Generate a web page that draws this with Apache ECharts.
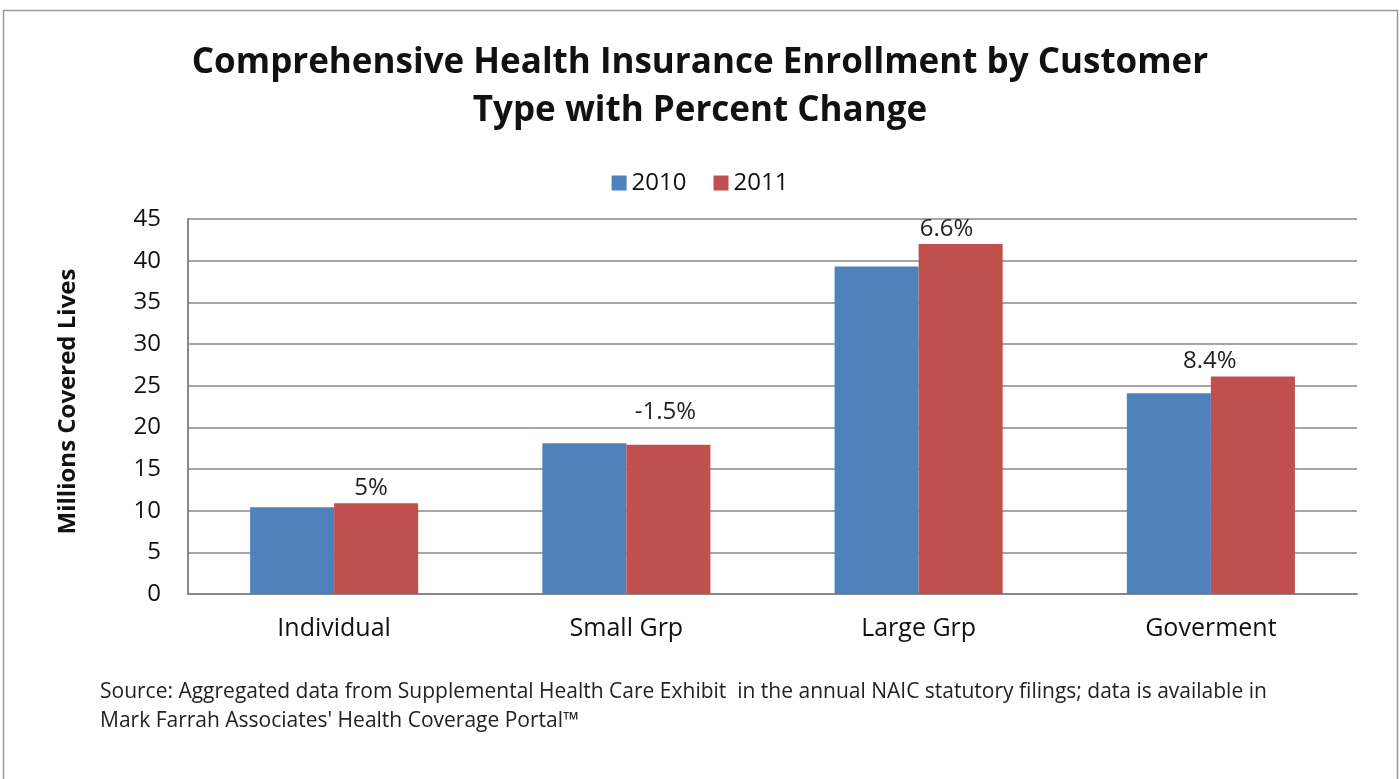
<!DOCTYPE html>
<html>
<head>
<meta charset="utf-8">
<script src="https://cdn.jsdelivr.net/npm/echarts@6/dist/echarts.min.js"></script>
<style>
html,body{margin:0;padding:0;background:#fff;}
#main{width:1400px;height:779px;}
</style>
</head>
<body>
<div id="main"></div>
<script>
const categories = ['Individual', 'Small Grp', 'Large Grp', 'Goverment'];
const values2010 = [10.4, 18.1, 39.3, 24.1];
const values2011 = [10.9, 17.9, 42.0, 26.1];
const pctChange = ['5%', '-1.5%', '6.6%', '8.4%'];
const yTicks = [0, 5, 10, 15, 20, 25, 30, 35, 40, 45];
const seriesNames = ['2010', '2011'];
const titleLines = ['Comprehensive Health Insurance Enrollment by Customer', 'Type with Percent Change'];
const sourceLines = ["Source: Aggregated data from Supplemental Health Care Exhibit  in the annual NAIC statutory filings; data is available in",
                     "Mark Farrah Associates' Health Coverage Portal\u2122"];
// label placement nudges (pixels), as positioned in the original
const labelOffsets = [[-5, 0], [-3, -18], [-14, 0], [-43, 0]];

const chart = echarts.init(document.getElementById('main'));
const font = '"Open Sans", "Liberation Sans", sans-serif';
chart.setOption({
  backgroundColor: '#fff',
  animation: false,
  title: {
    text: titleLines.join('\n'),
    left: 'center',
    top: 34,
    textStyle: { fontFamily: font, fontSize: 35, fontWeight: 'bold', color: '#111', lineHeight: 48 }
  },
  legend: {
    data: seriesNames,
    top: 166,
    left: 'center',
    itemWidth: 15,
    itemHeight: 15,
    itemGap: 27,
    icon: 'rect',
    textStyle: { fontFamily: font, fontSize: 24, color: '#111' }
  },
  grid: { left: 188, right: 43, top: 219, bottom: 185, containLabel: false },
  xAxis: {
    type: 'category',
    data: categories,
    axisTick: { show: false },
    axisLine: { lineStyle: { color: '#888', width: 2 } },
    axisLabel: { fontFamily: font, fontSize: 25, color: '#111', margin: 22 }
  },
  yAxis: {
    type: 'value',
    min: 0,
    max: 45,
    interval: 5,
    name: 'Millions Covered Lives',
    nameLocation: 'middle',
    nameGap: 108,
    nameTextStyle: { fontFamily: font, fontSize: 24, fontWeight: 'bold', color: '#111', padding: [0, 0, 0, 10] },
    axisLine: { show: true, lineStyle: { color: '#888', width: 2 } },
    axisTick: { show: false },
    axisLabel: { fontFamily: font, fontSize: 24, color: '#111', margin: 27,
      formatter: v => yTicks.includes(v) ? String(v) : '' },
    splitLine: { lineStyle: { color: '#888', width: 1.5 } }
  },
  series: [
    { name: seriesNames[0], type: 'bar', data: values2010, barGap: '0%', barCategoryGap: '42.5%',
      itemStyle: { color: '#4F81BD' } },
    { name: seriesNames[1], type: 'bar',
      data: values2011.map((v, i) => ({ value: v, label: { offset: labelOffsets[i] } })),
      barGap: '0%', barCategoryGap: '42.5%',
      itemStyle: { color: '#C0504D' },
      label: { show: true, position: 'top', distance: 3, fontFamily: font, fontSize: 24, color: '#222',
        formatter: p => pctChange[p.dataIndex] } }
  ],
  graphic: [
    { type: 'rect', shape: { x: 3.5, y: 10.5, width: 1394, height: 780 },
      style: { fill: 'none', stroke: '#999', lineWidth: 1.5 }, silent: true },
    { type: 'text', left: 100, top: 678,
      style: { text: sourceLines.join('\n'), font: '21px "Open Sans", sans-serif', lineHeight: 29, fill: '#222' } }
  ]
});
</script>
</body>
</html>
